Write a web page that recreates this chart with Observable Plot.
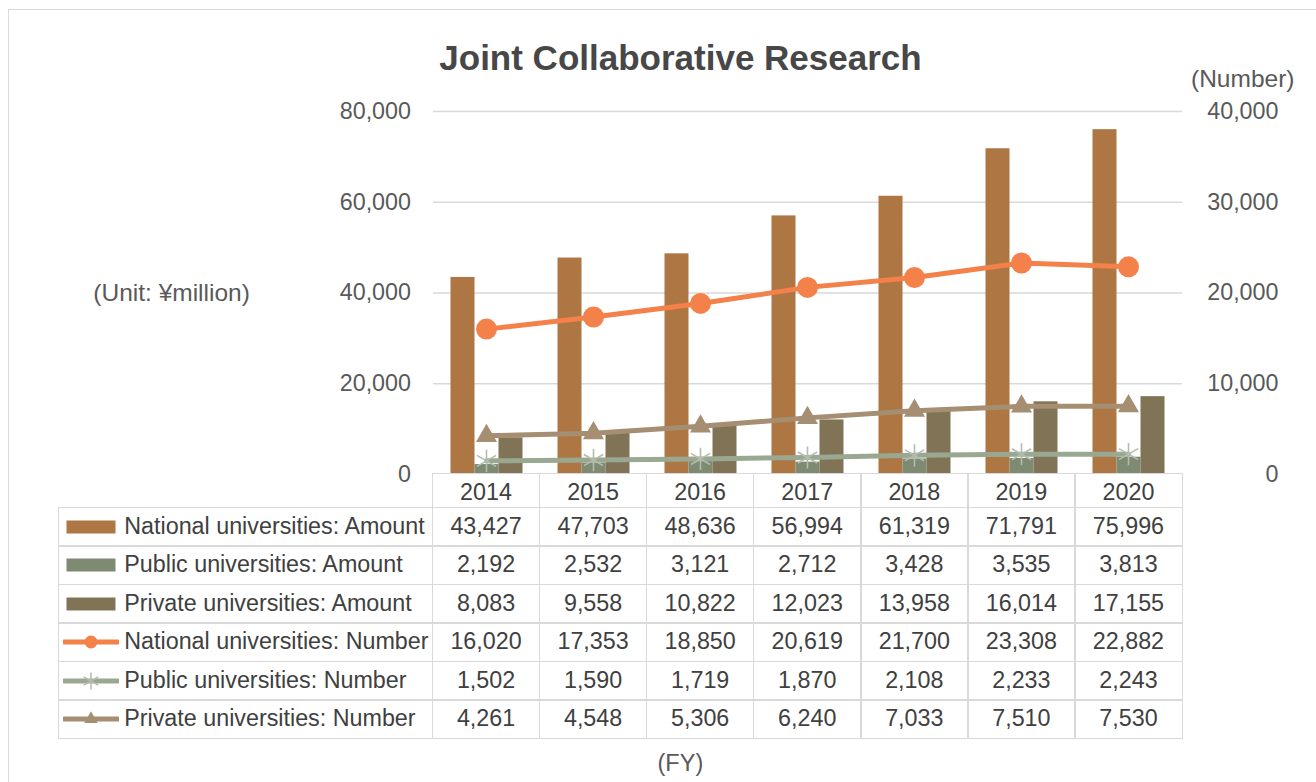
<!DOCTYPE html>
<html><head><meta charset="utf-8">
<script src="https://cdn.jsdelivr.net/npm/d3@7"></script>
<script src="https://cdn.jsdelivr.net/npm/@observablehq/plot@0.6"></script>
<style>
html,body{margin:0;padding:0;background:#fff;overflow:hidden}
#root{position:relative;width:1316px;height:782px;overflow:hidden;font-family:"Liberation Sans",Arial,sans-serif;color:#404040;background:#fff}
.abs{position:absolute;line-height:1;white-space:nowrap}
#frame{left:7.5px;top:8.5px;width:1400px;height:900px;border:1.5px solid #d9d9d9;box-sizing:border-box}
.cell{position:absolute;box-sizing:border-box;border:1.5px solid #d9d9d9;display:flex;align-items:center;justify-content:center;font-size:23.3px;color:#404040;white-space:nowrap}
.cell.lab{justify-content:flex-start;padding-left:4px}
.cell.head{padding-top:4px}
.cell svg{margin-right:5px;flex:none}
</style></head>
<body>
<div id="root">
  <div id="frame" class="abs"></div>
  <div class="abs" style="left:0;width:1361px;top:39.7px;text-align:center;font-weight:bold;font-size:35px;color:#474747">Joint Collaborative Research</div>
  <div class="abs" style="left:1191px;top:67.3px;font-size:24.5px;color:#595959">(Number)</div>
  <div class="abs" style="left:93.3px;top:280.8px;font-size:24.5px;color:#595959">(Unit: ¥million)</div>
  <div class="abs" style="left:0;width:1360.8px;top:751.8px;text-align:center;font-size:23.5px;color:#595959">(FY)</div>
  <div id="plotA" class="abs" style="left:0;top:0"></div>
  <div id="plotB" class="abs" style="left:0;top:0"></div>
  <div id="table" class="abs" style="left:0;top:0"></div>
</div>
<script>
// ---- data ----
const years = ["2014","2015","2016","2017","2018","2019","2020"];
const nationalAmount = [43427,47703,48636,56994,61319,71791,75996];
const publicAmount   = [2192,2532,3121,2712,3428,3535,3813];
const privateAmount  = [8083,9558,10822,12023,13958,16014,17155];
const nationalNumber = [16020,17353,18850,20619,21700,23308,22882];
const publicNumber   = [1502,1590,1719,1870,2108,2233,2243];
const privateNumber  = [4261,4548,5306,6240,7033,7510,7530];
const amountSeries = ["National universities: Amount","Public universities: Amount","Private universities: Amount"];
const numberSeries = ["National universities: Number","Public universities: Number","Private universities: Number"];
const leftTicks  = [0,20000,40000,60000,80000];
const rightTicks = [0,10000,20000,30000,40000];

// ---- styles ----
const amountColors = ["#ae7643","#7f8a72","#817355"];
const numberColors = ["#f4804a","#9aa892","#a58e72"];
const asteriskColor = "#b3bdac";
const W = 1316, H = 475, ML = 432.5, PR = 1182, MR = W - PR, MT = 111, MB = 1;
const fmt = d3.format(",");
const FONT = "Liberation Sans, Arial, sans-serif";

const amountValues = [nationalAmount, publicAmount, privateAmount];
const numberValues = [nationalNumber, publicNumber, privateNumber];
const amountData = years.flatMap((y, i) => amountSeries.map((s, k) => ({year: y, series: s, value: amountValues[k][i]})));
const numberData = numberSeries.map((s, k) => years.map((y, i) => ({year: y, series: s, value: numberValues[k][i]})));

// ---- Plot A: bars (left axis) ----
const plotA = Plot.plot({
  width: W, height: H, marginLeft: ML, marginRight: MR, marginTop: MT, marginBottom: MB,
  style: {background: "transparent", fontFamily: FONT, color: "#595959", overflow: "visible"},
  fx: {domain: years, padding: 0, axis: null, label: null},
  x: {domain: amountSeries, paddingInner: 0, paddingOuter: 0.703, axis: null},
  y: {domain: [0, 80000]},
  color: {domain: amountSeries, range: amountColors},
  marks: [
    Plot.ruleY(leftTicks.filter(d => d > 0), {stroke: "#d9d9d9", strokeWidth: 1.5}),
    Plot.barY(amountData, {fx: "year", x: "series", y: "value", fill: "series"}),
    Plot.axisY(leftTicks, {anchor: "left", tickSize: 0, tickPadding: 22.5, tickFormat: fmt, fontSize: 23.3, fill: "#595959", label: null})
  ]
});
document.getElementById("plotA").appendChild(plotA);

// ---- Plot B: lines (right axis) ----
const plotB = Plot.plot({
  width: W, height: H, marginLeft: ML, marginRight: MR, marginTop: MT, marginBottom: MB,
  style: {background: "transparent", fontFamily: FONT, color: "#595959", overflow: "visible"},
  x: {type: "point", domain: years, padding: 0.5, axis: null},
  y: {domain: [0, 40000]},
  marks: [
    Plot.line(numberData[0], {x: "year", y: "value", stroke: numberColors[0], strokeWidth: 5, strokeLinecap: "round"}),
    Plot.dot(numberData[0], {x: "year", y: "value", r: 10.5, fill: numberColors[0], stroke: "none"}),
    Plot.line(numberData[1], {x: "year", y: "value", stroke: numberColors[1], strokeWidth: 5, strokeLinecap: "round"}),
    Plot.dot(numberData[1], {x: "year", y: "value", symbol: "asterisk", r: 10.5, stroke: asteriskColor, strokeWidth: 1.6}),
    Plot.line(numberData[2], {x: "year", y: "value", stroke: numberColors[2], strokeWidth: 5, strokeLinecap: "round"}),
    Plot.dot(numberData[2], {x: "year", y: "value", symbol: "triangle", r: 7.8, fill: numberColors[2], stroke: "none"}),
    Plot.axisY(rightTicks, {anchor: "right", tickSize: 0, tickPadding: 0, textAnchor: "end", dx: 96, tickFormat: fmt, fontSize: 23.3, fill: "#595959", label: null})
  ]
});
document.getElementById("plotB").appendChild(plotB);

// ---- data table ----
const table = document.getElementById("table");
const tableLeft = 59, tableTop = 473.5, headerH = 33.8, rowH = 38.5, bw = 1.5;
const step = (PR - ML) / years.length;
const colX = [tableLeft, ...years.map((_, i) => ML + i * step), PR];
function addCell(x0, x1, y0, y1, cls) {
  const d = document.createElement("div");
  d.className = "cell" + (cls ? " " + cls : "");
  d.style.left = (x0 - bw / 2) + "px";
  d.style.top = (y0 - bw / 2) + "px";
  d.style.width = (x1 - x0 + bw) + "px";
  d.style.height = (y1 - y0 + bw) + "px";
  table.appendChild(d);
  return d;
}
years.forEach((y, i) => {
  const c = addCell(colX[i + 1], colX[i + 2], tableTop, tableTop + headerH, "head");
  c.textContent = y;
});
const rows = [
  {label: amountSeries[0], values: nationalAmount, kind: "bar", color: amountColors[0]},
  {label: amountSeries[1], values: publicAmount, kind: "bar", color: amountColors[1]},
  {label: amountSeries[2], values: privateAmount, kind: "bar", color: amountColors[2]},
  {label: numberSeries[0], values: nationalNumber, kind: "circle", color: numberColors[0]},
  {label: numberSeries[1], values: publicNumber, kind: "asterisk", color: numberColors[1]},
  {label: numberSeries[2], values: privateNumber, kind: "triangle", color: numberColors[2]}
];
rows.forEach((row, r) => {
  const y0 = tableTop + headerH + r * rowH, y1 = y0 + rowH;
  const lab = addCell(colX[0], colX[1], y0, y1, "lab");
  const svg = d3.create("svg").attr("width", 56).attr("height", 20);
  if (row.kind === "bar") {
    svg.append("rect").attr("x", 3.5).attr("y", 3.5).attr("width", 49).attr("height", 13).attr("fill", row.color);
  } else {
    svg.append("line").attr("x1", 1.5).attr("x2", 54.5).attr("y1", 10).attr("y2", 10)
      .attr("stroke", row.color).attr("stroke-width", 5).attr("stroke-linecap", "round");
    const sym = row.kind === "circle" ? d3.symbolCircle : row.kind === "asterisk" ? d3.symbolAsterisk : d3.symbolTriangle;
    const size = row.kind === "circle" ? Math.PI * 42 : row.kind === "asterisk" ? 200 : 80;
    const p = svg.append("path").attr("transform", "translate(28,10)").attr("d", d3.symbol(sym, size)());
    if (row.kind === "asterisk") p.attr("fill", "none").attr("stroke", asteriskColor).attr("stroke-width", 1.5);
    else p.attr("fill", row.color);
  }
  lab.appendChild(svg.node());
  lab.appendChild(document.createTextNode(row.label));
  row.values.forEach((v, i) => {
    const c = addCell(colX[i + 1], colX[i + 2], y0, y1);
    c.textContent = fmt(v);
  });
});
</script>
</body></html>
